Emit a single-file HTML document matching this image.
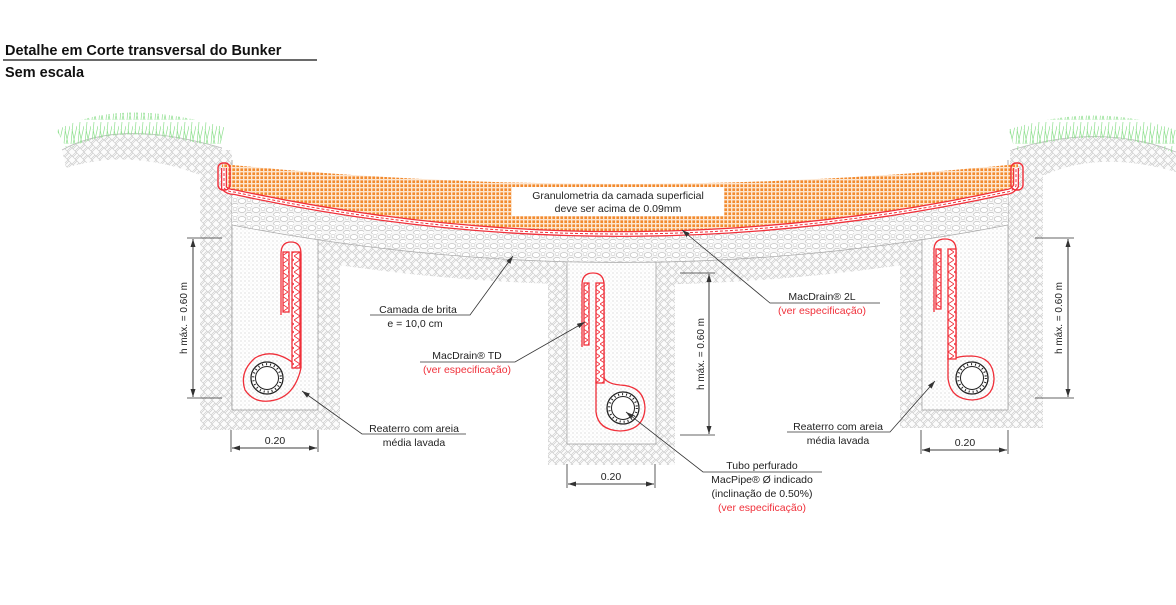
<!DOCTYPE html>
<html><head><meta charset="utf-8"><style>
html,body{margin:0;padding:0;background:#fff;width:1176px;height:605px;overflow:hidden}
svg{display:block}
text{font-family:"Liberation Sans",sans-serif;font-size:10.5px;fill:#222}
.r{fill:#f0303a}
</style></head><body>
<svg width="1176" height="605" viewBox="0 0 1176 605" xmlns="http://www.w3.org/2000/svg">
<defs>
<pattern id="h" width="8" height="8" patternUnits="userSpaceOnUse">
<rect width="8" height="8" fill="#fcfcfc"/>
<path d="M0,4 L4,0 M1,5 L5,1 M4,8 L8,4 M3,7 L7,3 M4,0 L8,4 M0,4 L4,8" stroke="#cacaca" stroke-width="0.6" fill="none"/>
</pattern>
<pattern id="s" width="4" height="4" patternUnits="userSpaceOnUse">
<rect width="4" height="4" fill="#fff"/><circle cx="1" cy="1" r="0.5" fill="#b0b0b0"/><circle cx="3" cy="3" r="0.4" fill="#c8c8c8"/>
</pattern>
<pattern id="o" width="4" height="4" patternUnits="userSpaceOnUse">
<rect width="4" height="4" fill="#fde6cf"/><rect x="0.4" y="0.4" width="2.6" height="2.6" fill="#f28a2e"/>
</pattern>
<pattern id="g" width="14" height="9" patternUnits="userSpaceOnUse">
<rect width="14" height="9" fill="#f7f7f7"/>
<ellipse cx="4" cy="3" rx="3.8" ry="2.4" fill="#fff" stroke="#b8b8b8" stroke-width="0.6"/>
<ellipse cx="11" cy="7.5" rx="3.4" ry="2.1" fill="#fff" stroke="#b8b8b8" stroke-width="0.6"/>
<ellipse cx="11" cy="2" rx="2" ry="1.6" fill="#fff" stroke="#c0c0c0" stroke-width="0.5"/>
</pattern>
<pattern id="z" width="6" height="8" patternUnits="userSpaceOnUse">
<rect width="6" height="8" fill="#fff"/>
<path d="M0,0 L6,4 L0,8" stroke="#f0303a" stroke-width="0.9" fill="none"/>
</pattern>
<pattern id="gr" width="7" height="24" patternUnits="userSpaceOnUse">
<path d="M1,24 L3,2 M3,24 L7,6 M5,24 L2,9" stroke="#8fe08f" stroke-width="0.7" fill="none"/>
</pattern>
<marker id="a" markerWidth="8" markerHeight="6" refX="8" refY="3" orient="auto" markerUnits="userSpaceOnUse"><path d="M0,0.5 L8,3 L0,5.5z" fill="#333"/></marker>
</defs>

<!-- title -->
<text x="5" y="55" style="font-size:14.5px;font-weight:bold;fill:#111">Detalhe em Corte transversal do Bunker</text>
<line x1="3" y1="60" x2="317" y2="60" stroke="#111" stroke-width="1.2"/>
<text x="5" y="77" style="font-size:14.5px;font-weight:bold;fill:#111">Sem escala</text>

<!-- grass mounds -->
<path d="M62,150 Q120,118 222,148 L222,175 L200,175 Q130,148 66,168 Z" fill="url(#h)"/>
<path d="M62,150 Q120,118 222,148" stroke="#bbb" stroke-width="0.8" fill="none"/>
<path d="M62,140 Q120,108 222,138" stroke="url(#gr)" stroke-width="22" fill="none"/>
<path d="M1176,152 Q1100,122 1012,150 L1012,175 L1045,175 Q1100,150 1176,172 Z" fill="url(#h)"/>
<path d="M1176,152 Q1100,122 1012,150" stroke="#bbb" stroke-width="0.8" fill="none"/>
<path d="M1176,142 Q1100,112 1012,140" stroke="url(#gr)" stroke-width="22" fill="none"/>

<!-- walls & trench hatch -->
<rect x="200" y="150" width="32" height="280" fill="url(#h)"/>
<rect x="200" y="200" width="140" height="230" fill="url(#h)"/>
<rect x="548" y="240" width="127" height="225" fill="url(#h)"/>
<rect x="900" y="200" width="143" height="228" fill="url(#h)"/>
<rect x="1010" y="150" width="33" height="278" fill="url(#h)"/>
<path d="M232,232 Q620,308 1008,232" stroke="url(#h)" stroke-width="30" fill="none"/>
<line x1="232" y1="160" x2="232" y2="410" stroke="#999" stroke-width="0.8"/>
<line x1="1008" y1="160" x2="1008" y2="410" stroke="#999" stroke-width="0.8"/>

<!-- sand boxes -->
<rect x="232" y="215" width="86" height="195" fill="url(#s)" stroke="#999" stroke-width="0.7"/>
<rect x="567" y="240" width="89" height="204" fill="url(#s)" stroke="#999" stroke-width="0.7"/>
<rect x="922" y="215" width="86" height="195" fill="url(#s)" stroke="#999" stroke-width="0.7"/>

<!-- gravel -->
<path d="M232,188 Q620,274 1008,188 L1008,225 Q620,300 232,225 Z" fill="url(#g)"/>
<path d="M232,225 Q620,300 1008,225" stroke="#aaa" stroke-width="0.7" fill="none"/>

<!-- orange layer -->
<path d="M222,164 Q620,204 1018,164 L1018,188 Q1010,190 1008,190 Q620,274 232,190 L222,190 Z" fill="url(#o)"/>
<path d="M224,168 L224,188 Q228,192 234,192 Q620,276 1006,192 Q1012,192 1016,186 L1016,168" stroke="#f0303a" stroke-width="6" fill="none"/>
<path d="M224,168 L224,188 Q228,192 234,192 Q620,276 1006,192 Q1012,192 1016,186 L1016,168" stroke="#fff" stroke-width="3.4" fill="none"/>
<path d="M224,168 L224,188 Q228,192 234,192 Q620,276 1006,192 Q1012,192 1016,186 L1016,168" stroke="#f0303a" stroke-width="1" stroke-dasharray="3 2" fill="none"/>
<rect x="218" y="163" width="12" height="27" rx="5" fill="none" stroke="#f0303a" stroke-width="1.4"/>
<rect x="1011" y="163" width="12" height="27" rx="5" fill="none" stroke="#f0303a" stroke-width="1.4"/>

<!-- label box -->
<rect x="512" y="187" width="212" height="29" fill="#fff"/>
<text x="618" y="199" text-anchor="middle">Granulometria da camada superficial</text>
<text x="618" y="212" text-anchor="middle">deve ser acima de 0.09mm</text>

<!-- drains -->
<g stroke="#f0303a" stroke-width="1.3">
<path d="M281,315 L281,254 Q281,242 291,242 Q301,242 301,254 L301,368" fill="none"/>
<rect x="283" y="252" width="6" height="60" fill="url(#z)"/>
<rect x="292" y="252" width="8" height="116" fill="url(#z)"/>
<path d="M292,362 Q272,348 255,358 Q239,372 245,390 Q255,405 275,400 Q295,395 301,368" fill="none"/>
</g>
<g stroke="#f0303a" stroke-width="1.3">
<path d="M582,347 L582,285 Q582,273 593,273 Q604,273 604,285 L604,380" fill="none"/>
<rect x="584" y="283" width="5" height="62" fill="url(#z)"/>
<rect x="596" y="283" width="8" height="100" fill="url(#z)"/>
<path d="M596,380 L596,412 Q598,430 620,431 Q644,430 645,408 Q644,386 620,385 Q608,384 604,378" fill="none"/>
</g>
<g stroke="#f0303a" stroke-width="1.3">
<path d="M934,312 L934,250 Q934,239 945,239 Q956,239 956,250 L956,358" fill="none"/>
<rect x="936" y="249" width="5" height="60" fill="url(#z)"/>
<rect x="948" y="249" width="8" height="110" fill="url(#z)"/>
<path d="M948,355 L948,378 Q950,399 972,400 Q994,399 994,378 Q993,357 972,356 Q960,356 956,358" fill="none"/>
</g>
<!-- pipes -->
<g fill="#fff" stroke="#222">
<circle cx="267" cy="378" r="16" stroke-width="1.3"/><circle cx="267" cy="378" r="11.5" stroke-width="1"/>
<circle cx="267" cy="378" r="13.8" fill="none" stroke-width="2.2" stroke-dasharray="1 3"/>
<circle cx="623" cy="408" r="16" stroke-width="1.3"/><circle cx="623" cy="408" r="11.5" stroke-width="1"/>
<circle cx="623" cy="408" r="13.8" fill="none" stroke-width="2.2" stroke-dasharray="1 3"/>
<circle cx="972" cy="378" r="16" stroke-width="1.3"/><circle cx="972" cy="378" r="11.5" stroke-width="1"/>
<circle cx="972" cy="378" r="13.8" fill="none" stroke-width="2.2" stroke-dasharray="1 3"/>
</g>

<!-- leaders -->
<g stroke="#333" stroke-width="0.8" fill="none">
<path d="M370,315 L470,315 L513,256" marker-end="url(#a)"/>
<path d="M420,362 L515,362 L585,322" marker-end="url(#a)"/>
<path d="M880,303 L770,303 L682,230" marker-end="url(#a)"/>
<path d="M466,434 L362,434 L302,391" marker-end="url(#a)"/>
<path d="M787,432 L890,432 L935,381" marker-end="url(#a)"/>
<path d="M822,472 L703,472 L626,412" marker-end="url(#a)"/>
</g>
<text x="418" y="313" text-anchor="middle">Camada de brita</text>
<text x="415" y="327" text-anchor="middle">e = 10,0 cm</text>
<text x="467" y="359" text-anchor="middle">MacDrain® TD</text>
<text x="467" y="373" text-anchor="middle" class="r">(ver especificação)</text>
<text x="822" y="300" text-anchor="middle">MacDrain® 2L</text>
<text x="822" y="314" text-anchor="middle" class="r">(ver especificação)</text>
<text x="414" y="432" text-anchor="middle">Reaterro com areia</text>
<text x="414" y="446" text-anchor="middle">média lavada</text>
<text x="838" y="430" text-anchor="middle">Reaterro com areia</text>
<text x="838" y="444" text-anchor="middle">média lavada</text>
<text x="762" y="469" text-anchor="middle">Tubo perfurado</text>
<text x="762" y="483" text-anchor="middle">MacPipe® Ø indicado</text>
<text x="762" y="497" text-anchor="middle">(inclinação de 0.50%)</text>
<text x="762" y="511" text-anchor="middle" class="r">(ver especificação)</text>

<!-- dimensions -->
<g stroke="#333" stroke-width="0.8" fill="none">
<line x1="231" y1="430" x2="231" y2="452"/><line x1="318" y1="430" x2="318" y2="452"/>
<line x1="232" y1="448" x2="317" y2="448" marker-end="url(#a)"/><line x1="317" y1="448" x2="232" y2="448" marker-end="url(#a)"/>
<line x1="567" y1="464" x2="567" y2="488"/><line x1="655" y1="464" x2="655" y2="488"/>
<line x1="568" y1="484" x2="654" y2="484" marker-end="url(#a)"/><line x1="654" y1="484" x2="568" y2="484" marker-end="url(#a)"/>
<line x1="921" y1="430" x2="921" y2="454"/><line x1="1008" y1="430" x2="1008" y2="454"/>
<line x1="922" y1="450" x2="1007" y2="450" marker-end="url(#a)"/><line x1="1007" y1="450" x2="922" y2="450" marker-end="url(#a)"/>
<line x1="187" y1="238" x2="222" y2="238"/><line x1="187" y1="398" x2="222" y2="398"/>
<line x1="193" y1="239" x2="193" y2="397" marker-end="url(#a)"/><line x1="193" y1="397" x2="193" y2="239" marker-end="url(#a)"/>
<line x1="680" y1="273" x2="715" y2="273"/><line x1="680" y1="435" x2="715" y2="435"/>
<line x1="709" y1="274" x2="709" y2="434" marker-end="url(#a)"/><line x1="709" y1="434" x2="709" y2="274" marker-end="url(#a)"/>
<line x1="1035" y1="238" x2="1074" y2="238"/><line x1="1035" y1="398" x2="1074" y2="398"/>
<line x1="1068" y1="239" x2="1068" y2="397" marker-end="url(#a)"/><line x1="1068" y1="397" x2="1068" y2="239" marker-end="url(#a)"/>
</g>
<text x="275" y="444" text-anchor="middle">0.20</text>
<text x="611" y="480" text-anchor="middle">0.20</text>
<text x="965" y="446" text-anchor="middle">0.20</text>
<text transform="translate(187,318) rotate(-90)" text-anchor="middle" style="font-size:10px">h máx. = 0.60 m</text>
<text transform="translate(704,354) rotate(-90)" text-anchor="middle" style="font-size:10px">h máx. = 0.60 m</text>
<text transform="translate(1062,318) rotate(-90)" text-anchor="middle" style="font-size:10px">h máx. = 0.60 m</text>
</svg>
</body></html>
